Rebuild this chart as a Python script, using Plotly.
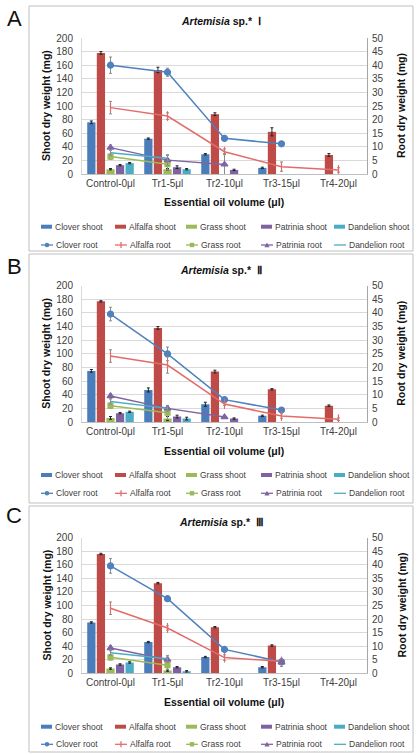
import plotly.graph_objects as go

W, H = 418, 755

categories = ["Control-0μl", "Tr1-5μl", "Tr2-10μl", "Tr3-15μl", "Tr4-20μl"]
species = ["Clover", "Alfalfa", "Grass", "Patrinia", "Dandelion"]
panel_letters = ["A", "B", "C"]
panel_numerals = ["Ⅰ", "Ⅱ", "Ⅲ"]
shoot_ticks = list(range(0, 201, 20))
root_ticks = list(range(0, 51, 5))

# ---- Panel A (Artemisia sp. I) ----
clover_shoot_A = [76, 52, 29, 9, None]
alfalfa_shoot_A = [178, 153, 88, 62, 28]
grass_shoot_A = [7, 7, None, None, None]
patrinia_shoot_A = [13, 10, 6, None, None]
dandelion_shoot_A = [16, 7, None, None, None]
clover_root_A = [40, 37.4, 13.1, 11.1, None]
alfalfa_root_A = [24.4, 21.3, 8.2, 2.7, 1.5]
grass_root_A = [6.4, 3.6, None, None, None]
patrinia_root_A = [9.7, 5.1, 3.5, None, None]
dandelion_root_A = [7.8, 5.8, None, None, None]
shoot_err_A = [[2, 1, 1, 1, 0], [2, 4, 2, 6, 2], [1, 1, 0, 0, 0], [1, 2, 1, 0, 0], [1, 1, 0, 0, 0]]
root_err_A = [[3, 1.5, 0.5, 0.5, 0], [2.3, 1.2, 1, 1.7, 0.8], [1, 2, 0, 0, 0], [1, 2, 4, 0, 0], [1, 1, 0, 0, 0]]

# ---- Panel B (Artemisia sp. II) ----
clover_shoot_B = [75, 47, 26, 9, None]
alfalfa_shoot_B = [177, 138, 74, 48, 24]
grass_shoot_B = [6, 5, None, None, None]
patrinia_shoot_B = [13, 8, 5, None, None]
dandelion_shoot_B = [15, 5, None, None, None]
clover_root_B = [39.6, 25, 8.2, 4.4, None]
alfalfa_root_B = [24.2, 20.9, 6.6, 2.2, 1.0]
grass_root_B = [6, 3.4, None, None, None]
patrinia_root_B = [9.5, 5, 1.8, None, None]
dandelion_root_B = [7.5, 5, None, None, None]
shoot_err_B = [[2, 3, 3, 1, 0], [1, 2, 2, 1, 1], [2, 3, 0, 0, 0], [1, 2, 1, 0, 0], [1, 2, 0, 0, 0]]
root_err_B = [[2.5, 2.5, 0.5, 0.5, 0], [2.3, 3, 0.5, 0.8, 0.5], [1, 2.5, 0, 0, 0], [1, 1, 0.5, 0, 0], [1, 1, 0, 0, 0]]

# ---- Panel C (Artemisia sp. III) ----
clover_shoot_C = [75, 46, 24, 9, None]
alfalfa_shoot_C = [176, 133, 68, 41, None]
grass_shoot_C = [7, 4, None, None, None]
patrinia_shoot_C = [13, 9, None, None, None]
dandelion_shoot_C = [16, 3, None, None, None]
clover_root_C = [39.6, 27.5, 8.8, 4.2, None]
alfalfa_root_C = [24, 16.7, 5.8, 4.4, None]
grass_root_C = [5.9, 3, None, None, None]
patrinia_root_C = [9.3, 5, None, 4, None]
dandelion_root_C = [7.6, 5.4, None, None, None]
shoot_err_C = [[1, 1, 1, 1, 0], [1, 1, 1, 1, 0], [1, 1, 0, 0, 0], [1, 1, 0, 0, 0], [1, 1, 0, 0, 0]]
root_err_C = [[2.7, 0.5, 0.5, 0.5, 0], [2.3, 0.8, 1, 1, 0], [1, 1.5, 0, 0, 0], [1, 1, 0, 1.5, 0], [1, 1.2, 0, 0, 0]]

shoots = [
    [clover_shoot_A, alfalfa_shoot_A, grass_shoot_A, patrinia_shoot_A, dandelion_shoot_A],
    [clover_shoot_B, alfalfa_shoot_B, grass_shoot_B, patrinia_shoot_B, dandelion_shoot_B],
    [clover_shoot_C, alfalfa_shoot_C, grass_shoot_C, patrinia_shoot_C, dandelion_shoot_C],
]
roots = [
    [clover_root_A, alfalfa_root_A, grass_root_A, patrinia_root_A, dandelion_root_A],
    [clover_root_B, alfalfa_root_B, grass_root_B, patrinia_root_B, dandelion_root_B],
    [clover_root_C, alfalfa_root_C, grass_root_C, patrinia_root_C, dandelion_root_C],
]
shoot_errs = [shoot_err_A, shoot_err_B, shoot_err_C]
root_errs = [root_err_A, root_err_B, root_err_C]

# ---- styles ----
bar_colors = ["#4A7DBA", "#BE4B48", "#9BBB59", "#7F62A1", "#4BACC6"]
line_colors = ["#4F81BD", "#E36C6A", "#9BBB59", "#8064A2", "#4BACC6"]
markers = ["circle", "line-ns-open", "square", "triangle-up", None]
marker_sizes = [6, 7, 5, 6, 5]
FONT = "Liberation Sans, Arial, sans-serif"
TXT = "#404040"

# panel geometry in pixels
plot_x = (82, 367)
panels = [
    dict(top=38, bottom=174, box=(6, 251), title_y=21, xt_y=202, leg=(226.7, 245), let_y=18),
    dict(top=285.7, bottom=422, box=(254, 503), title_y=270, xt_y=451, leg=(475, 493.3), let_y=266.5),
    dict(top=537.7, bottom=673.3, box=(506, 752), title_y=521.7, xt_y=701.7, leg=(726.7, 744.3), let_y=515),
]


def fx(px):
    return px / W


def fy(py):
    return 1 - py / H


def text(s, x, y, size, color="#111111", xanchor="center", angle=0):
    return dict(text=s, x=fx(x), y=fy(y), xref="paper", yref="paper",
                xanchor=xanchor, yanchor="middle", showarrow=False, textangle=angle,
                font=dict(size=size, color=color, family=FONT))


fig = go.Figure()
layout = dict(
    width=W, height=H, margin=dict(l=0, r=0, t=0, b=0, autoexpand=False),
    paper_bgcolor="white", plot_bgcolor="white",
    barmode="group", bargap=0.16, bargroupgap=0.14,
    showlegend=False, font=dict(family=FONT, color=TXT, size=10),
)
shapes = []
annotations = []

for k, p in enumerate(panels):
    xname = "x" if k == 0 else f"x{k + 1}"
    yl = f"y{2 * k + 1}" if k > 0 else "y"
    yr = f"y{2 * k + 2}"
    xkey = "xaxis" if k == 0 else f"xaxis{k + 1}"
    ylkey = "yaxis" if k == 0 else f"yaxis{2 * k + 1}"
    yrkey = f"yaxis{2 * k + 2}"

    for i, name in enumerate(species):
        fig.add_trace(go.Bar(
            x=categories, y=shoots[k][i], name=f"{name} shoot",
            marker=dict(color=bar_colors[i], line=dict(width=0)),
            error_y=dict(type="data", array=shoot_errs[k][i], color="#222222", thickness=1, width=1.5),
            xaxis=xname, yaxis=yl,
        ))
    for i, name in enumerate(species):
        mk = markers[i]
        fig.add_trace(go.Scatter(
            x=categories, y=roots[k][i], name=f"{name} root",
            mode="lines+markers" if mk else "lines",
            line=dict(color=line_colors[i], width=1.5),
            marker=dict(symbol=mk or "circle", size=marker_sizes[i],
                        color=line_colors[i], line=dict(color=line_colors[i], width=1.2)),
            error_y=dict(type="data", array=root_errs[k][i], color="#8c8c8c", thickness=1, width=1.5),
            xaxis=xname, yaxis=yr,
        ))

    dom_y = [fy(p["bottom"]), fy(p["top"])]
    layout[xkey] = dict(
        domain=[fx(plot_x[0]), fx(plot_x[1])], anchor=yl, type="category",
        categoryorder="array", categoryarray=categories,
        showline=True, linecolor="#bfbfbf", linewidth=1, showgrid=False,
        ticks="", tickfont=dict(size=10, color=TXT, family=FONT),
    )
    layout[ylkey] = dict(
        domain=dom_y, anchor=xname, range=[0, 200], tickvals=shoot_ticks,
        showgrid=True, gridcolor="#d9d9d9", gridwidth=1, zeroline=False,
        showline=True, linecolor="#d9d9d9", ticks="", ticklabelstandoff=6,
        tickfont=dict(size=10, color=TXT, family=FONT),
    )
    layout[yrkey] = dict(
        overlaying=yl, anchor=xname, side="right", range=[0, 50], tickvals=root_ticks,
        showgrid=False, zeroline=False, showline=True, linecolor="#a6a6a6", ticks="",
        ticklabelstandoff=2, tickfont=dict(size=10, color=TXT, family=FONT),
    )

    # panel frame
    shapes.append(dict(type="rect", xref="paper", yref="paper",
                       x0=fx(29), x1=fx(413), y0=fy(p["box"][1]), y1=fy(p["box"][0]),
                       line=dict(color="#bfbfbf", width=1), fillcolor="rgba(0,0,0,0)"))
    annotations.append(text(panel_letters[k], 14, p["let_y"], 22))
    annotations.append(text(f"<b><i>Artemisia</i> sp.*</b>  <b>{panel_numerals[k]}</b>", 221, p["title_y"], 10.5))
    annotations.append(text("<b>Essential oil volume (μl)</b>", 224, p["xt_y"], 10.5))
    mid = (p["top"] + p["bottom"]) / 2
    annotations.append(text("<b>Shoot dry weight (mg)</b>", 46, mid, 10.5, angle=-90))
    annotations.append(text("<b>Root dry weight (mg)</b>", 401, mid, 10.5, angle=-90))

    # custom legend (two rows of five)
    cols = [41, 115, 186, 261, 334]
    r1, r2 = p["leg"]
    for i, name in enumerate(species):
        c = cols[i]
        shapes.append(dict(type="rect", xref="paper", yref="paper",
                           x0=fx(c), x1=fx(c + 11), y0=fy(r1 + 2), y1=fy(r1 - 2),
                           line=dict(width=0), fillcolor=bar_colors[i]))
        annotations.append(text(f"{name} shoot", c + 12, r1, 8.5, color=TXT, xanchor="left"))
        shapes.append(dict(type="line", xref="paper", yref="paper",
                           x0=fx(c), x1=fx(c + 12), y0=fy(r2), y1=fy(r2),
                           line=dict(color=line_colors[i], width=1.3)))
        cx = c + 6
        mk = markers[i]
        if mk == "circle":
            shapes.append(dict(type="circle", xref="paper", yref="paper",
                               x0=fx(cx - 2.3), x1=fx(cx + 2.3), y0=fy(r2 + 2.3), y1=fy(r2 - 2.3),
                               line=dict(width=0), fillcolor=line_colors[i]))
        elif mk == "square":
            shapes.append(dict(type="rect", xref="paper", yref="paper",
                               x0=fx(cx - 2.2), x1=fx(cx + 2.2), y0=fy(r2 + 2.2), y1=fy(r2 - 2.2),
                               line=dict(width=0), fillcolor=line_colors[i]))
        elif mk == "triangle-up":
            path = (f"M {fx(cx - 2.6)} {fy(r2 + 2.2)} L {fx(cx + 2.6)} {fy(r2 + 2.2)} "
                    f"L {fx(cx)} {fy(r2 - 2.6)} Z")
            shapes.append(dict(type="path", xref="paper", yref="paper", path=path,
                               line=dict(width=0), fillcolor=line_colors[i]))
        elif mk == "line-ns-open":
            shapes.append(dict(type="line", xref="paper", yref="paper",
                               x0=fx(cx), x1=fx(cx), y0=fy(r2 + 3), y1=fy(r2 - 3),
                               line=dict(color=line_colors[i], width=1.3)))
        annotations.append(text(f"{name} root", c + 13, r2, 8.5, color=TXT, xanchor="left"))

layout["shapes"] = shapes
layout["annotations"] = annotations
fig.update_layout(**layout)
fig.write_html("out.html")
